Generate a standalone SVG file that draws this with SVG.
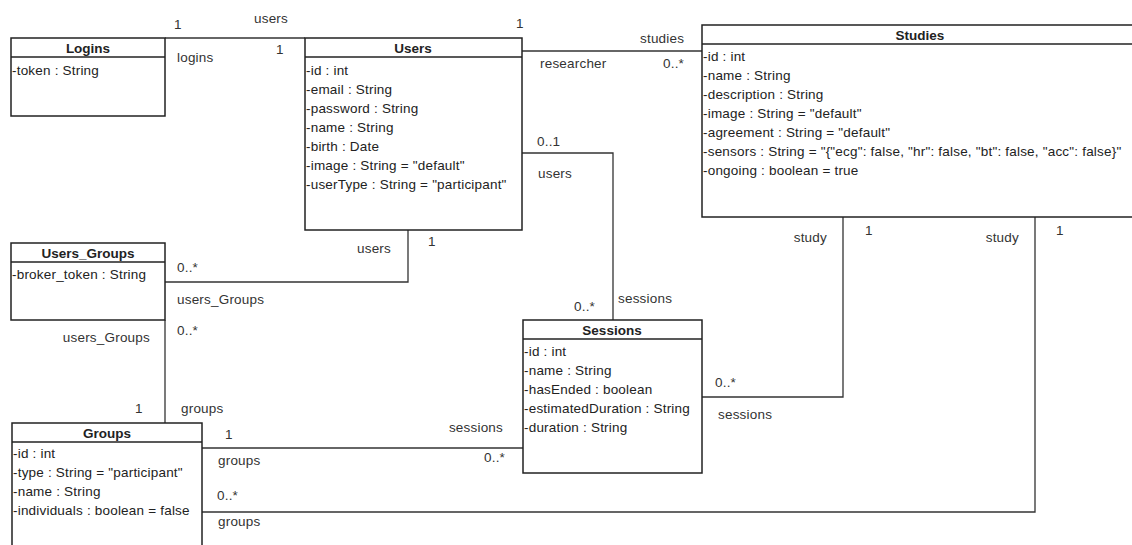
<svg xmlns="http://www.w3.org/2000/svg" width="1132" height="545" viewBox="0 0 1132 545">
  <style>
    text { font-family: "Liberation Sans", Arial, sans-serif; font-size: 13.5px; letter-spacing: 0.2px; fill: #222; }
    .title { font-weight: bold; text-anchor: middle; letter-spacing: 0; }
    .lbl { fill: #333; }
    .end { text-anchor: end; }
    .box { fill: #fff; stroke: #222; stroke-width: 1.5; }
    .sep { stroke: #222; stroke-width: 1.5; }
    .conn { fill: none; stroke: #333; stroke-width: 1.3; }
  </style>

  <!-- associations -->
  <g id="connectors">
    <!-- Logins - Users -->
    <path class="conn" d="M165,38 H305"/>
    <text class="lbl" x="174" y="29">1</text>
    <text class="lbl" x="254" y="23">users</text>
    <text class="lbl" x="177" y="62">logins</text>
    <text class="lbl" x="276" y="54">1</text>

    <!-- Users - Studies -->
    <path class="conn" d="M522,51 H702"/>
    <text class="lbl" x="516" y="28">1</text>
    <text class="lbl" x="640" y="43">studies</text>
    <text class="lbl" x="540" y="68">researcher</text>
    <text class="lbl" x="663" y="68">0..*</text>

    <!-- Users - Sessions -->
    <path class="conn" d="M522,153 H613 V320"/>
    <text class="lbl" x="537" y="146">0..1</text>
    <text class="lbl" x="538" y="178">users</text>
    <text class="lbl" x="574" y="311">0..*</text>
    <text class="lbl" x="618" y="303">sessions</text>

    <!-- Users - Users_Groups -->
    <path class="conn" d="M408,230 V282 H165"/>
    <text class="lbl end" x="391" y="253">users</text>
    <text class="lbl" x="428" y="246">1</text>
    <text class="lbl" x="177" y="272">0..*</text>
    <text class="lbl" x="177" y="304">users_Groups</text>

    <!-- Users_Groups - Groups -->
    <path class="conn" d="M165,320 V423"/>
    <text class="lbl end" x="150" y="342">users_Groups</text>
    <text class="lbl" x="177" y="335">0..*</text>
    <text class="lbl" x="135" y="413">1</text>
    <text class="lbl" x="181" y="413">groups</text>

    <!-- Sessions - Studies -->
    <path class="conn" d="M702,397 H843 V217"/>
    <text class="lbl" x="715" y="387">0..*</text>
    <text class="lbl" x="718" y="419">sessions</text>
    <text class="lbl end" x="827" y="242">study</text>
    <text class="lbl" x="865" y="235">1</text>

    <!-- Groups - Sessions -->
    <path class="conn" d="M202,448 H523"/>
    <text class="lbl" x="225" y="439">1</text>
    <text class="lbl" x="218" y="465">groups</text>
    <text class="lbl end" x="503" y="432">sessions</text>
    <text class="lbl" x="484" y="462">0..*</text>

    <!-- Groups - Studies -->
    <path class="conn" d="M202,512 H1035 V217"/>
    <text class="lbl" x="217" y="500">0..*</text>
    <text class="lbl" x="218" y="526">groups</text>
    <text class="lbl end" x="1019" y="242">study</text>
    <text class="lbl" x="1056" y="235">1</text>
  </g>

  <g id="Logins">
    <rect class="box" x="11" y="38" width="154" height="78"/>
    <line class="sep" x1="11" y1="57" x2="165" y2="57"/>
    <text class="title" x="88" y="53">Logins</text>
    <text x="12" y="75">-token : String</text>
  </g>

  <g id="Users">
    <rect class="box" x="305" y="38" width="217" height="192"/>
    <line class="sep" x1="305" y1="57" x2="522" y2="57"/>
    <text class="title" x="413" y="53">Users</text>
    <text x="306" y="75">-id : int</text>
    <text x="306" y="94">-email : String</text>
    <text x="306" y="113">-password : String</text>
    <text x="306" y="132">-name : String</text>
    <text x="306" y="151">-birth : Date</text>
    <text x="306" y="170">-image : String = "default"</text>
    <text x="306" y="189">-userType : String = "participant"</text>
  </g>

  <g id="Studies">
    <rect class="box" x="702" y="25" width="438" height="192"/>
    <line class="sep" x1="702" y1="44" x2="1140" y2="44"/>
    <text class="title" x="920" y="40">Studies</text>
    <text x="703" y="61">-id : int</text>
    <text x="703" y="80">-name : String</text>
    <text x="703" y="99">-description : String</text>
    <text x="703" y="118">-image : String = "default"</text>
    <text x="703" y="137">-agreement : String = "default"</text>
    <text x="703" y="156">-sensors : String = "{"ecg": false, "hr": false, "bt": false, "acc": false}"</text>
    <text x="703" y="175">-ongoing : boolean = true</text>
  </g>

  <g id="Users_Groups">
    <rect class="box" x="11" y="243" width="154" height="77"/>
    <line class="sep" x1="11" y1="262" x2="165" y2="262"/>
    <text class="title" x="88" y="258">Users_Groups</text>
    <text x="12" y="279">-broker_token : String</text>
  </g>

  <g id="Sessions">
    <rect class="box" x="523" y="320" width="179" height="153"/>
    <line class="sep" x1="523" y1="339" x2="702" y2="339"/>
    <text class="title" x="612" y="335">Sessions</text>
    <text x="524" y="356">-id : int</text>
    <text x="524" y="375">-name : String</text>
    <text x="524" y="394">-hasEnded : boolean</text>
    <text x="524" y="413">-estimatedDuration : String</text>
    <text x="524" y="432">-duration : String</text>
  </g>

  <g id="Groups">
    <rect class="box" x="12" y="423" width="190" height="130"/>
    <line class="sep" x1="12" y1="442" x2="202" y2="442"/>
    <text class="title" x="107" y="438">Groups</text>
    <text x="13" y="458">-id : int</text>
    <text x="13" y="477">-type : String = "participant"</text>
    <text x="13" y="496">-name : String</text>
    <text x="13" y="515">-individuals : boolean = false</text>
  </g>
</svg>
